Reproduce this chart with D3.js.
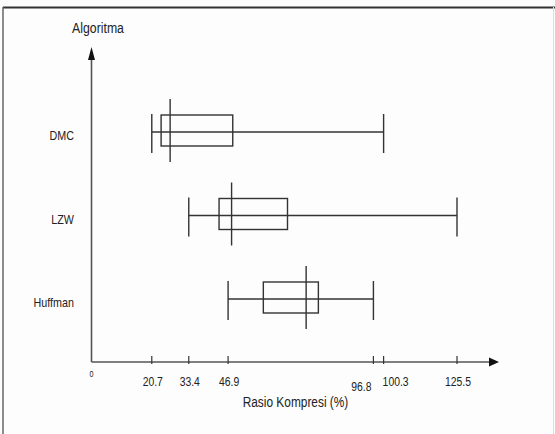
<!DOCTYPE html>
<html>
<head>
<meta charset="utf-8">
<script src="https://cdn.jsdelivr.net/npm/d3@7"></script>
<style>
  body { margin: 0; background: #fdfdfd; }
  svg { display: block; }
  text { font-family: "Liberation Sans", Arial, sans-serif; fill: #222; }
</style>
</head>
<body>
<div id="chart"></div>
<script>
// Data
const algoritma = ['DMC', 'LZW', 'Huffman'];
const minVal = [20.7, 33.4, 46.9];
const q1Val = [23.9, 43.8, 59.0];
const medVal = [27.0, 48.1, 73.7];
const q3Val = [48.5, 67.3, 77.9];
const maxVal = [100.3, 125.5, 96.8];
const tickValues = [0, 20.7, 33.4, 46.9, 96.8, 100.3, 125.5];

const [width, height] = [555, 434];
const stroke = '#333';

const svg = d3.select('#chart').append('svg')
  .attr('width', width)
  .attr('height', height);

// testo compresso orizzontalmente (tipo Arial Narrow)
const narrowText = (sel, tx, ty, k) => sel
  .attr('transform', (d, i) => `translate(${tx(d, i)},${ty(d, i)}) scale(${k},1)`);

// cornice
svg.append('line').attr('x1', 3).attr('x2', width).attr('y1', 7.5).attr('y2', 7.5)
  .attr('stroke', '#333').attr('stroke-width', 2);
svg.append('line').attr('x1', 3).attr('x2', 3).attr('y1', 7).attr('y2', height)
  .attr('stroke', '#666').attr('stroke-width', 1.5);
svg.append('line').attr('x1', 553.5).attr('x2', 553.5).attr('y1', 7).attr('y2', height)
  .attr('stroke', '#ddd').attr('stroke-width', 1);

const x = d3.scaleLinear().domain([0, 125.5]).range([91.5, 457]);
const y = d3.scalePoint().domain(algoritma).range([132, 299]);

const axisY = 362;

// assi con frecce
svg.append('line').attr('x1', x(0)).attr('x2', 490).attr('y1', axisY).attr('y2', axisY)
  .attr('stroke', '#555').attr('stroke-width', 1.6);
svg.append('path').attr('d', `M489,${axisY - 4.5}L499,${axisY}L489,${axisY + 4.5}Z`).attr('fill', '#111');
svg.append('line').attr('x1', x(0)).attr('x2', x(0)).attr('y1', axisY).attr('y2', 58)
  .attr('stroke', '#555').attr('stroke-width', 1.6);
svg.append('path').attr('d', `M${x(0) - 3.5},60L${x(0)},47L${x(0) + 3.5},60Z`).attr('fill', '#111');

// tick
const ticks = svg.append('g');
ticks.selectAll('line').data(tickValues.filter((d) => d > 0)).enter().append('line')
  .attr('x1', (d) => x(d)).attr('x2', (d) => x(d))
  .attr('y1', axisY - 6).attr('y2', axisY + 2)
  .attr('stroke', stroke).attr('stroke-width', 1.2);

const labelPos = (d) => {
  if (d === 0) return [x(d), 377, 'middle', 9];
  if (d === 96.8) return [x(d) - 2, 391, 'end', 13];
  if (d === 100.3) return [x(d) - 1, 386, 'start', 13];
  return [x(d) + 1, 386, 'middle', 13];
};
ticks.selectAll('text').data(tickValues).enter().append('text')
  .call(narrowText, (d) => labelPos(d)[0], (d) => labelPos(d)[1], 0.8)
  .attr('text-anchor', (d) => labelPos(d)[2])
  .style('font-size', (d) => labelPos(d)[3] + 'px')
  .text((d) => d === 0 ? '0' : d.toFixed(1));

// etichette categorie
svg.append('g').selectAll('text').data(algoritma).enter().append('text')
  .call(narrowText, () => 74, (d) => y(d) + 8, 0.86)
  .attr('text-anchor', 'end')
  .style('font-size', '12.5px')
  .text((d) => d);

// titoli
svg.append('text').datum('Algoritma')
  .call(narrowText, () => 98, () => 33, 0.82)
  .attr('text-anchor', 'middle')
  .style('font-size', '15px').text((d) => d);
svg.append('text').datum('Rasio Kompresi (%)')
  .call(narrowText, () => 295.5, () => 406.5, 0.82)
  .attr('text-anchor', 'middle')
  .style('font-size', '14.5px').text((d) => d);

// box plot
const boxes = svg.append('g').attr('stroke', stroke).attr('fill', 'none').attr('stroke-width', 1.4);
algoritma.forEach((a, i) => {
  const c = y(a);
  const g = boxes.append('g');
  g.append('line').attr('x1', x(minVal[i])).attr('x2', x(maxVal[i])).attr('y1', c).attr('y2', c);
  g.append('line').attr('x1', x(minVal[i])).attr('x2', x(minVal[i])).attr('y1', c - 18).attr('y2', c + 21);
  g.append('line').attr('x1', x(maxVal[i])).attr('x2', x(maxVal[i])).attr('y1', c - 18).attr('y2', c + 21);
  g.append('rect')
    .attr('x', x(q1Val[i])).attr('width', x(q3Val[i]) - x(q1Val[i]))
    .attr('y', c - 17).attr('height', 31);
  g.append('line').attr('x1', x(medVal[i])).attr('x2', x(medVal[i])).attr('y1', c - 33).attr('y2', c + 30);
});
</script>
</body>
</html>
